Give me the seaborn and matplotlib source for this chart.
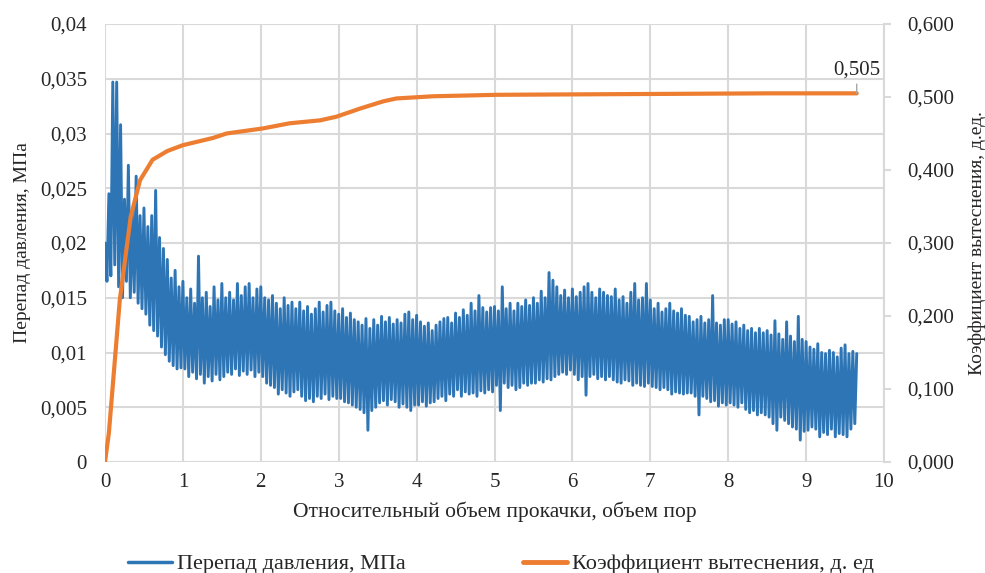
#!/usr/bin/env python3
"""
Pressure drop and displacement coefficient vs pumped pore volumes
"""
import numpy as np
import pandas as pd
import matplotlib
matplotlib.use('Agg')
import matplotlib.pyplot as plt
from matplotlib.lines import Line2D
from matplotlib.ticker import FixedLocator
import seaborn as sns

# pressure drop, MPa (peaks / troughs read every 0.025 pore volume, one row = 0.5 PV)
dp_step = 0.025
dp = [
    0.0200, 0.0165, 0.0245, 0.0170, 0.0347, 0.0180, 0.0347, 0.0160, 0.0308, 0.0150,
    0.0240, 0.0165, 0.0271, 0.0150, 0.0230, 0.0155, 0.0261, 0.0145, 0.0225, 0.0140,
    0.0232, 0.0135, 0.0215, 0.0125, 0.0225, 0.0120, 0.0248, 0.0115, 0.0205, 0.0105,
    0.0195, 0.0098, 0.0185, 0.0092, 0.0168, 0.0088, 0.0175, 0.0085, 0.0160, 0.0086,
    0.0165, 0.0085, 0.0150, 0.0078, 0.0158, 0.0082, 0.0145, 0.0076, 0.0188, 0.0080,
    0.0150, 0.0072, 0.0155, 0.0078, 0.0142, 0.0074, 0.0160, 0.0080, 0.0148, 0.0075,
    0.0163, 0.0078, 0.0150, 0.0082, 0.0155, 0.0080, 0.0148, 0.0085, 0.0163, 0.0079,
    0.0152, 0.0083, 0.0160, 0.0080, 0.0163, 0.0084, 0.0150, 0.0078, 0.0158, 0.0082,
    0.0160, 0.0078, 0.0150, 0.0072, 0.0148, 0.0070, 0.0152, 0.0068, 0.0145, 0.0062,
    0.0140, 0.0066, 0.0150, 0.0063, 0.0143, 0.0060, 0.0146, 0.0064, 0.0140, 0.0066,
    0.0146, 0.0060, 0.0138, 0.0056, 0.0142, 0.0058, 0.0135, 0.0055, 0.0140, 0.0060,
    0.0146, 0.0058, 0.0137, 0.0062, 0.0143, 0.0057, 0.0146, 0.0060, 0.0138, 0.0058,
    0.0135, 0.0058, 0.0140, 0.0055, 0.0132, 0.0054, 0.0136, 0.0052, 0.0130, 0.0050,
    0.0128, 0.0048, 0.0125, 0.0045, 0.0131, 0.0029, 0.0122, 0.0047, 0.0130, 0.0050,
    0.0125, 0.0054, 0.0133, 0.0056, 0.0128, 0.0052, 0.0132, 0.0057, 0.0126, 0.0055,
    0.0130, 0.0050, 0.0127, 0.0053, 0.0135, 0.0050, 0.0137, 0.0047, 0.0130, 0.0052,
    0.0134, 0.0052, 0.0128, 0.0055, 0.0124, 0.0051, 0.0127, 0.0054, 0.0120, 0.0055,
    0.0125, 0.0058, 0.0128, 0.0060, 0.0131, 0.0056, 0.0132, 0.0062, 0.0127, 0.0060,
    0.0136, 0.0066, 0.0132, 0.0060, 0.0139, 0.0064, 0.0134, 0.0062, 0.0145, 0.0063,
    0.0138, 0.0060, 0.0152, 0.0065, 0.0141, 0.0063, 0.0137, 0.0066, 0.0141, 0.0064,
    0.0142, 0.0070, 0.0138, 0.0047, 0.0160, 0.0072, 0.0140, 0.0068, 0.0145, 0.0070,
    0.0138, 0.0066, 0.0145, 0.0068, 0.0142, 0.0072, 0.0148, 0.0070, 0.0143, 0.0072,
    0.0150, 0.0072, 0.0145, 0.0075, 0.0156, 0.0073, 0.0150, 0.0076, 0.0173, 0.0075,
    0.0166, 0.0078, 0.0160, 0.0080, 0.0152, 0.0082, 0.0157, 0.0080, 0.0150, 0.0084,
    0.0158, 0.0080, 0.0151, 0.0075, 0.0155, 0.0078, 0.0160, 0.0061, 0.0163, 0.0078,
    0.0155, 0.0080, 0.0150, 0.0076, 0.0158, 0.0078, 0.0155, 0.0075, 0.0152, 0.0078,
    0.0151, 0.0075, 0.0158, 0.0073, 0.0148, 0.0072, 0.0151, 0.0075, 0.0145, 0.0074,
    0.0155, 0.0070, 0.0163, 0.0072, 0.0148, 0.0070, 0.0150, 0.0069, 0.0163, 0.0072,
    0.0148, 0.0069, 0.0140, 0.0068, 0.0145, 0.0066, 0.0137, 0.0068, 0.0140, 0.0066,
    0.0145, 0.0062, 0.0138, 0.0064, 0.0136, 0.0063, 0.0140, 0.0062, 0.0134, 0.0063,
    0.0133, 0.0063, 0.0128, 0.0060, 0.0130, 0.0043, 0.0133, 0.0060, 0.0127, 0.0058,
    0.0130, 0.0055, 0.0152, 0.0056, 0.0127, 0.0051, 0.0125, 0.0054, 0.0130, 0.0052,
    0.0130, 0.0054, 0.0126, 0.0052, 0.0128, 0.0050, 0.0122, 0.0054, 0.0125, 0.0048,
    0.0120, 0.0045, 0.0122, 0.0047, 0.0118, 0.0043, 0.0122, 0.0045, 0.0118, 0.0043,
    0.0120, 0.0041, 0.0116, 0.0035, 0.0129, 0.0029, 0.0117, 0.0041, 0.0112, 0.0038,
    0.0128, 0.0035, 0.0115, 0.0032, 0.0110, 0.0030, 0.0133, 0.0020, 0.0112, 0.0028,
    0.0110, 0.0029, 0.0105, 0.0032, 0.0103, 0.0030, 0.0108, 0.0023, 0.0100, 0.0027,
    0.0099, 0.0025, 0.0102, 0.0030, 0.0100, 0.0023, 0.0096, 0.0026, 0.0104, 0.0025,
    0.0107, 0.0023, 0.0099, 0.0030, 0.0101, 0.0035, 0.0099,
]

# displacement coefficient, fraction
kv_x = [0, 0.05, 0.19, 0.33, 0.45, 0.61, 0.80, 1.00, 1.39, 1.56, 2.03, 2.37,
        2.76, 2.97, 3.27, 3.57, 3.74, 4.21, 5.03, 6.74, 8.50, 9.65]
kv = [0, 0.040, 0.222, 0.336, 0.386, 0.414, 0.426, 0.434, 0.444, 0.450, 0.457,
      0.464, 0.468, 0.473, 0.484, 0.494, 0.498, 0.501, 0.503, 0.504, 0.505, 0.505]

left_ticks = [0, 0.005, 0.01, 0.015, 0.02, 0.025, 0.03, 0.035, 0.04]
left_labels = ['0', '0,005', '0,01', '0,015', '0,02', '0,025', '0,03', '0,035', '0,04']
right_ticks = [0, 0.1, 0.2, 0.3, 0.4, 0.5, 0.6]
right_labels = ['0,000', '0,100', '0,200', '0,300', '0,400', '0,500', '0,600']
x_ticks = list(range(0, 11))

blue = '#2e75b6'
orange = '#ed7d31'
grid_c = '#d9d9d9'
text_c = '#262626'

sns.set_style('white')
plt.rcParams['font.family'] = ['Liberation Serif', 'DejaVu Serif']

df_dp = pd.DataFrame({'pv': np.arange(len(dp)) * dp_step, 'dp': dp})
df_kv = pd.DataFrame({'pv': kv_x, 'kv': kv})

fig = plt.figure(figsize=(9.85, 5.73), dpi=100)
ax = fig.add_axes([105 / 985, 1 - 462 / 573, 779 / 985, 438 / 573])

sns.lineplot(data=df_dp, x='pv', y='dp', ax=ax, color=blue, linewidth=2.1,
             legend=False, estimator=None, sort=False)
ax.set_xlim(0, 10)
ax.set_ylim(0, 0.04)
ax.xaxis.set_major_locator(FixedLocator(x_ticks))
ax.set_xticklabels([str(t) for t in x_ticks])
ax.set_yticks(left_ticks)
ax.set_yticklabels(left_labels)
ax.grid(True, color=grid_c, linewidth=1.5)
ax.set_axisbelow(True)
for s in ax.spines.values():
    s.set_visible(False)
ax.tick_params(axis='y', length=0, pad=13, labelsize=15, colors=text_c)
ax.tick_params(axis='x', length=0, pad=8, labelsize=15, colors=text_c)
ax.set_xlabel('Относительный объем прокачки, объем пор', fontsize=15.5, color=text_c, labelpad=7)
ax.set_ylabel('Перепад давления, МПа', fontsize=14, color=text_c, labelpad=6)

ax2 = ax.twinx()
sns.lineplot(data=df_kv, x='pv', y='kv', ax=ax2, color=orange, linewidth=3,
             legend=False, estimator=None, sort=False)
ax2.set_ylim(0, 0.6)
ax2.set_yticks(right_ticks)
ax2.set_yticklabels(right_labels)
for name, s in ax2.spines.items():
    s.set_visible(name == 'right')
ax2.spines['right'].set_color(grid_c)
ax2.spines['right'].set_linewidth(1.5)
ax2.tick_params(axis='y', length=5, width=1.5, color=grid_c, pad=12, labelsize=15,
                labelcolor=text_c)
ax2.set_ylabel('Коэффициент вытеснения, д.ед.', fontsize=14, color=text_c, labelpad=10)
ax2.set_xlabel('')

ax2.annotate('0,505', xy=(kv_x[-1], kv[-1]), xytext=(0, 10), textcoords='offset points',
             ha='center', va='bottom', fontsize=15, color=text_c,
             arrowprops=dict(arrowstyle='-', color='#a6a6a6', lw=1, shrinkA=1, shrinkB=0))

h1 = Line2D([], [], color=blue, linewidth=2.5)
h2 = Line2D([], [], color=orange, linewidth=3.5)
fig.legend([h1], ['Перепад давления, МПа'], loc='center left',
           bbox_to_anchor=(128 / 985, 1 - 564 / 573), frameon=False, fontsize=16,
           borderpad=0, borderaxespad=0, handlelength=2.0, handletextpad=0.2)
fig.legend([h2], ['Коэффициент вытеснения, д. ед'], loc='center left',
           bbox_to_anchor=(523 / 985, 1 - 564 / 573), frameon=False, fontsize=16,
           borderpad=0, borderaxespad=0, handlelength=2.0, handletextpad=0.2)

fig.savefig('out.png', dpi=100)
plt.close(fig)
